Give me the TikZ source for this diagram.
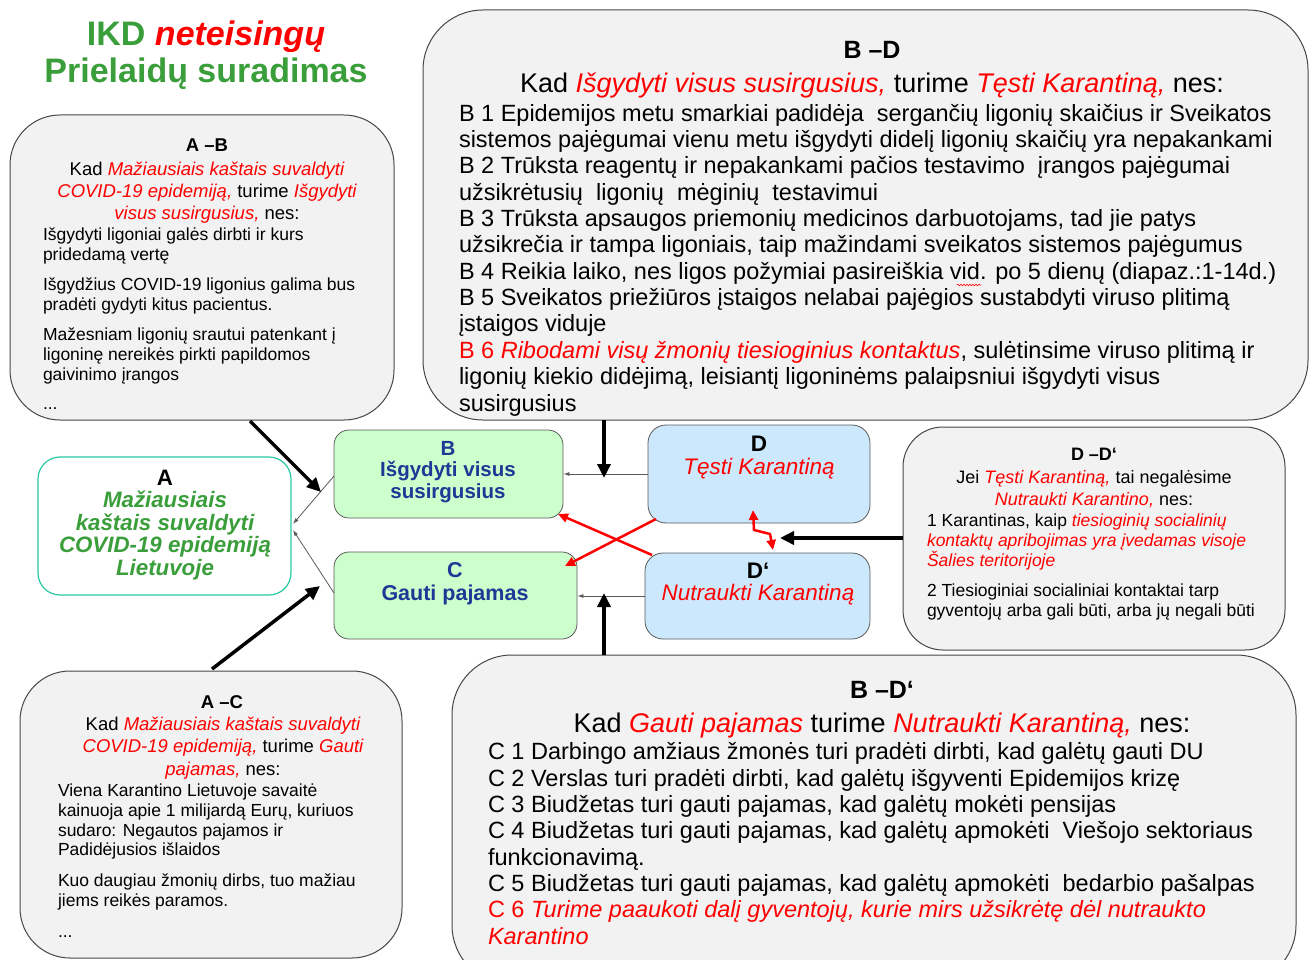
\documentclass[tikz,border=0pt]{standalone}
\usepackage{fontspec}
\setmainfont{Liberation Sans}
\usetikzlibrary{arrows.meta,decorations.pathmorphing}
\definecolor{tgreen}{RGB}{58,158,58}
\definecolor{bubblefill}{RGB}{242,242,242}
\definecolor{bubbleline}{RGB}{70,70,70}
\definecolor{lgreen}{RGB}{204,255,204}
\definecolor{lblue}{RGB}{204,232,252}
\definecolor{dblue}{RGB}{31,56,150}
\definecolor{aborder}{RGB}{40,200,160}
\definecolor{thingray}{RGB}{90,90,90}
\newcommand{\rd}[1]{\textcolor{red}{#1}}
\newcommand{\ri}[1]{\textcolor{red}{\itshape #1}}
\tikzset{
  bubble/.style={draw=bubbleline, fill=bubblefill, line width=1pt, inner sep=0pt},
  gbox/.style={draw=thingray, fill=lgreen, line width=0.8pt, rounded corners=15pt, inner sep=0pt},
  bbox/.style={draw=thingray, fill=lblue, line width=0.8pt, rounded corners=18pt, inner sep=0pt},
  txt/.style={inner sep=0pt, outer sep=0pt},
  bigarrow/.style={line width=3.5pt, -{Triangle[length=14pt,width=13pt]}},
  thinarrow/.style={draw=thingray, line width=0.8pt, -{Latex[length=6pt,width=4pt]}},
  redarrow/.style={draw=red, line width=2.5pt, -{Triangle[length=10pt,width=9pt]}},
  redboth/.style={draw=red, line width=2.5pt, {Triangle[length=10pt,width=9pt]}-{Triangle[length=10pt,width=9pt]}},
  spellwave/.style={draw=red, line width=0.6pt, decorate, decoration={snake, amplitude=0.8pt, segment length=3pt}},
}
\begin{document}
\begin{tikzpicture}[x=1pt,y=-1pt]
\useasboundingbox (0,0) rectangle (1309,960);
% title (base = last line)
\node[txt, anchor=base, align=center, font=\fontsize{34}{37}\selectfont\bfseries, text=tgreen] (title) at (206,83)
  {IKD \textcolor{red}{\itshape neteisingų}\\Prielaidų suradimas};

% B-D bubble
\node[bubble, rounded corners=60pt, minimum width=885pt, minimum height=410pt] (bd) at (865.5,215) {};
\node[txt, anchor=base, font=\fontsize{25}{26}\selectfont\bfseries] (bdh) at (872,59) {B –D};
\node[txt, anchor=base, font=\fontsize{27}{28}\selectfont] (bdk) at (872,93)
  {Kad \ri{Išgydyti visus susirgusius,} turime \ri{Tęsti Karantiną,} nes:};
\node[txt, anchor=base west, align=left, font=\fontsize{23.5}{26.36}\selectfont] (bdt) at (459,411)
  {B 1 Epidemijos metu smarkiai padidėja\ \ sergančių ligonių skaičius ir Sveikatos\\
   sistemos pajėgumai vienu metu išgydyti didelį ligonių skaičių yra nepakankami\\
   B 2 Trūksta reagentų ir nepakankami pačios testavimo\ \ įrangos pajėgumai\\
   užsikrėtusių\ \ ligonių\ \ mėginių\ \ testavimui\\
   B 3 Trūksta apsaugos priemonių medicinos darbuotojams, tad jie patys\\
   užsikrečia ir tampa ligoniais, taip mažindami sveikatos sistemos pajėgumus\\
   B 4 Reikia laiko, nes ligos požymiai pasireiškia vid. po 5 dienų (diapaz.:1-14d.)\\
   B 5 Sveikatos priežiūros įstaigos nelabai pajėgios sustabdyti viruso plitimą\\
   įstaigos viduje\\
   \rd{B 6 \textit{Ribodami visų žmonių tiesioginius kontaktus}}, sulėtinsime viruso plitimą ir\\
   ligonių kiekio didėjimą, leisiantį ligoninėms palaipsniui išgydyti visus\\
   susirgusius};
\coordinate (waveL) at (957,285);
\coordinate (waveR) at (981,285);
\draw[spellwave] (waveL) -- (waveR);

% B-D' bubble
\node[bubble, rounded corners=60pt, minimum width=844pt, minimum height=330pt] (bdp) at (874,820) {};
\node[txt, anchor=base, font=\fontsize{25}{26}\selectfont\bfseries] (bdph) at (882,698) {B –D‘};
\node[txt, anchor=base, font=\fontsize{27}{28}\selectfont] (bdpk) at (882,732)
  {Kad \ri{Gauti pajamas} turime \ri{Nutraukti Karantiną,} nes:};
\node[txt, anchor=base west, align=left, font=\fontsize{23.5}{26.3}\selectfont] (bdpt) at (488,944)
  {C 1 Darbingo amžiaus žmonės turi pradėti dirbti, kad galėtų gauti DU\\
   C 2 Verslas turi pradėti dirbti, kad galėtų išgyventi Epidemijos krizę\\
   C 3 Biudžetas turi gauti pajamas, kad galėtų mokėti pensijas\\
   C 4 Biudžetas turi gauti pajamas, kad galėtų apmokėti\ \ Viešojo sektoriaus\\
   funkcionavimą.\\
   C 5 Biudžetas turi gauti pajamas, kad galėtų apmokėti\ \ bedarbio pašalpas\\
   \rd{C 6 \textit{Turime paaukoti dalį gyventojų, kurie mirs užsikrėtę dėl nutraukto}}\\
   \ri{Karantino}};

% A-B bubble
\node[bubble, rounded corners=50pt, minimum width=384pt, minimum height=305pt] (ab) at (202,267.5) {};
\node[txt, anchor=base, font=\fontsize{18.5}{22}\selectfont\bfseries] (abh) at (207,152) {A –B};
\node[txt, anchor=base, align=center, font=\fontsize{18.5}{22}\selectfont] (abk) at (207,220)
  {Kad \ri{Mažiausiais kaštais suvaldyti}\\ \ri{COVID-19 epidemiją,} turime \ri{Išgydyti}\\ \ri{visus susirgusius,} nes:};
\node[txt, anchor=base west, align=left, font=\fontsize{17.5}{20}\selectfont] (abt) at (43,409)
  {Išgydyti ligoniai galės dirbti ir kurs\\ pridedamą vertę\\[10pt]
   Išgydžius COVID-19 ligonius galima bus\\ pradėti gydyti kitus pacientus.\\[10pt]
   Mažesniam ligonių srautui patenkant į\\ ligoninę nereikės pirkti papildomos\\ gaivinimo įrangos\\[9pt]
   ...};

% A-C bubble
\node[bubble, rounded corners=50pt, minimum width=382pt, minimum height=287pt] (ac) at (211,814.5) {};
\node[txt, anchor=base, font=\fontsize{18.5}{22}\selectfont\bfseries] (ach) at (222,708) {A –C};
\node[txt, anchor=base, align=center, font=\fontsize{18.5}{22.5}\selectfont] (ack) at (223,775)
  {Kad \ri{Mažiausiais kaštais suvaldyti}\\ \ri{COVID-19 epidemiją,} turime \ri{Gauti}\\ \ri{pajamas,} nes:};
\node[txt, anchor=base west, align=left, font=\fontsize{17.5}{19.7}\selectfont] (act) at (58,937)
  {Viena Karantino Lietuvoje savaitė\\ kainuoja apie 1 milijardą Eurų, kuriuos\\ sudaro: Negautos pajamos ir\\ Padidėjusios išlaidos\\[11pt]
   Kuo daugiau žmonių dirbs, tuo mažiau\\ jiems reikės paramos.\\[11pt]
   ...};

% D-D' bubble
\node[bubble, rounded corners=40pt, minimum width=382pt, minimum height=223pt] (dd) at (1094,538.5) {};
\node[txt, anchor=base, font=\fontsize{18}{22}\selectfont\bfseries] (ddh) at (1094,460) {D –D‘};
\node[txt, anchor=base, align=center, font=\fontsize{18}{22}\selectfont] (ddk) at (1094,505)
  {Jei \ri{Tęsti Karantiną,} tai negalėsime\\ \ri{Nutraukti Karantino,} nes:};
\node[txt, anchor=base west, align=left, font=\fontsize{17.5}{20}\selectfont] (ddt) at (927,616)
  {1 Karantinas, kaip \ri{tiesioginių socialinių}\\ \ri{kontaktų apribojimas yra įvedamas visoje}\\ \ri{Šalies teritorijoje}\\[10pt]
   2 Tiesioginiai socialiniai kontaktai tarp\\ gyventojų arba gali būti, arba jų negali būti};

% central nodes
\node[draw=aborder, fill=white, line width=1.2pt, rounded corners=22pt, minimum width=253pt, minimum height=138pt, inner sep=0pt] (A) at (164.5,526) {};
\node[txt, anchor=base, align=center, font=\fontsize{22.3}{22.5}\selectfont\bfseries] (At) at (165,575)
  {A\\ \textcolor{tgreen}{\itshape Mažiausiais}\\ \textcolor{tgreen}{\itshape kaštais suvaldyti}\\ \textcolor{tgreen}{\itshape COVID-19 epidemiją}\\ \textcolor{tgreen}{\itshape Lietuvoje}};

\node[gbox, minimum width=229pt, minimum height=88pt] (B) at (448.5,474) {};
\node[txt, anchor=base, align=center, font=\fontsize{20.5}{21.5}\selectfont\bfseries, text=dblue] (Bt) at (448,498)
  {B\\ Išgydyti visus\\ susirgusius};
\node[gbox, minimum width=243pt, minimum height=87pt] (C) at (455.5,595.5) {};
\node[txt, anchor=base, align=center, font=\fontsize{21.5}{23}\selectfont\bfseries, text=dblue] (Ct) at (455,600)
  {C\\ Gauti pajamas};
\node[bbox, minimum width=222pt, minimum height=98pt] (D) at (759,474) {};
\node[txt, anchor=base, align=center, font=\fontsize{22.5}{23}\selectfont] (Dt) at (759,474)
  {\textbf{D}\\ \ri{Tęsti Karantiną}};
\node[bbox, minimum width=225pt, minimum height=86pt] (Dp) at (757.5,596) {};
\node[txt, anchor=base, align=center, font=\fontsize{22.5}{22}\selectfont] (Dpt) at (758,600)
  {\textbf{D‘}\\ \ri{Nutraukti Karantiną}};

% thin gray connectors
\coordinate (Ain1) at (293,524);
\coordinate (Ain2) at (293,530);
\draw[thinarrow] (334,476) -- (Ain1);
\draw[thinarrow] (334,593) -- (Ain2);
\draw[thinarrow] (D.west |- 0,474) -- (B.east |- 0,474);
\draw[thinarrow] (Dp.west |- 0,596) -- (C.east |- 0,596);

% thick black arrows
\coordinate (abtip) at (321,492);
\coordinate (actip) at (320,586);
\coordinate (bdtip) at (604,478);
\coordinate (bdptip) at (604,593);
\coordinate (ddtip) at (780,538);
\draw[bigarrow] (250,421) -- (abtip);
\draw[bigarrow] (212,669) -- (actip);
\draw[bigarrow] (604,420) -- (bdtip);
\draw[bigarrow] (604,655) -- (bdptip);
\draw[bigarrow] (dd.west |- 0,538) -- (ddtip);

% red crossing arrows
\draw[redarrow] (656,519) -- (565,566);
\draw[redarrow] (652,555) -- (558,514);
% red lightning
\draw[redboth] (753,510) -- (754,530) -- (770,534) -- (773,550);
\end{tikzpicture}
\end{document}
